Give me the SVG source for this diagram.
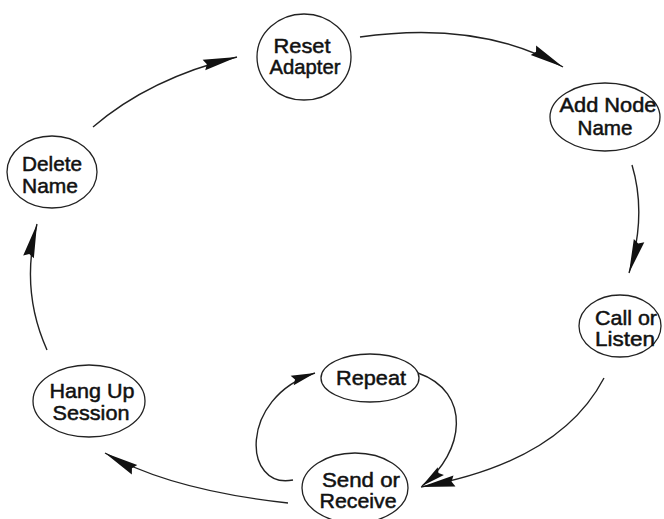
<svg xmlns="http://www.w3.org/2000/svg" width="664" height="519" viewBox="0 0 664 519">
  <style>
    .node ellipse { fill: #fff; stroke: #222; stroke-width: 1.3; }
    .node text { font-family: "Liberation Sans", Arial, sans-serif; font-size: 21px; fill: #111; text-anchor: middle; stroke: #111; stroke-width: 0.5; }
    .edge { fill: none; stroke: #222; stroke-width: 1.4; }
  </style>
  <defs>
    <marker id="arrow" markerUnits="userSpaceOnUse" markerWidth="40" markerHeight="16" refX="0" refY="0" viewBox="-36 -8 40 16" orient="auto">
      <path d="M0,0 L-34,-5.5 L-31,0 L-34,5.5 Z" fill="#111"/>
    </marker>
    <marker id="arrow-small" markerUnits="userSpaceOnUse" markerWidth="30" markerHeight="14" refX="0" refY="0" viewBox="-26 -7 30 14" orient="auto">
      <path d="M0,0 L-24,-5 L-21,0 L-24,5 Z" fill="#111"/>
    </marker>
  </defs>

  <rect width="664" height="519" fill="#fff"/>

  <g id="connectors">
    <path class="edge" d="M93,127 Q150,78 237,57" marker-end="url(#arrow)"/>
    <path class="edge" d="M360,37 Q480,20 563,67" marker-end="url(#arrow)"/>
    <path class="edge" d="M632,165 Q647,215 629,273" marker-end="url(#arrow)"/>
    <path class="edge" d="M604,378 Q560,462 421,487" marker-end="url(#arrow)"/>
    <path class="edge" d="M288,503 Q170,490 105,453" marker-end="url(#arrow)"/>
    <path class="edge" d="M47,350 Q20,290 37,224" marker-end="url(#arrow)"/>
    <path class="edge" d="M293,480 C243,490 238,398 315,373" marker-end="url(#arrow-small)"/>
    <path class="edge" d="M418,373 C472,392 465,452 422,486" marker-end="url(#arrow-small)"/>
  </g>

  <g id="reset-adapter" class="node">
    <ellipse cx="304" cy="57" rx="47" ry="43"/>
    <text x="302" y="53" textLength="57" lengthAdjust="spacingAndGlyphs">Reset</text>
    <text x="305" y="74" textLength="71" lengthAdjust="spacingAndGlyphs">Adapter</text>
  </g>

  <g id="add-node-name" class="node">
    <ellipse cx="605" cy="117" rx="55" ry="34"/>
    <text x="608" y="112" textLength="97" lengthAdjust="spacingAndGlyphs">Add Node</text>
    <text x="605" y="135" textLength="55" lengthAdjust="spacingAndGlyphs">Name</text>
  </g>

  <g id="call-or-listen" class="node">
    <ellipse cx="620" cy="326" rx="41" ry="31"/>
    <text x="626" y="325" textLength="62" lengthAdjust="spacingAndGlyphs">Call or</text>
    <text x="625" y="346" textLength="60" lengthAdjust="spacingAndGlyphs">Listen</text>
  </g>

  <g id="send-or-receive" class="node">
    <ellipse cx="355" cy="488" rx="53" ry="35"/>
    <text x="361" y="487" textLength="78" lengthAdjust="spacingAndGlyphs">Send or</text>
    <text x="358" y="508" textLength="77" lengthAdjust="spacingAndGlyphs">Receive</text>
  </g>

  <g id="repeat" class="node">
    <ellipse cx="370" cy="378" rx="49" ry="24"/>
    <text x="371" y="385" textLength="70" lengthAdjust="spacingAndGlyphs">Repeat</text>
  </g>

  <g id="hang-up-session" class="node">
    <ellipse cx="89" cy="401" rx="56" ry="36"/>
    <text x="92" y="398" textLength="85" lengthAdjust="spacingAndGlyphs">Hang Up</text>
    <text x="91" y="420" textLength="77" lengthAdjust="spacingAndGlyphs">Session</text>
  </g>

  <g id="delete-name" class="node">
    <ellipse cx="52" cy="172" rx="45" ry="36"/>
    <text x="52" y="171" textLength="60" lengthAdjust="spacingAndGlyphs">Delete</text>
    <text x="50" y="193" textLength="56" lengthAdjust="spacingAndGlyphs">Name</text>
  </g>
</svg>
